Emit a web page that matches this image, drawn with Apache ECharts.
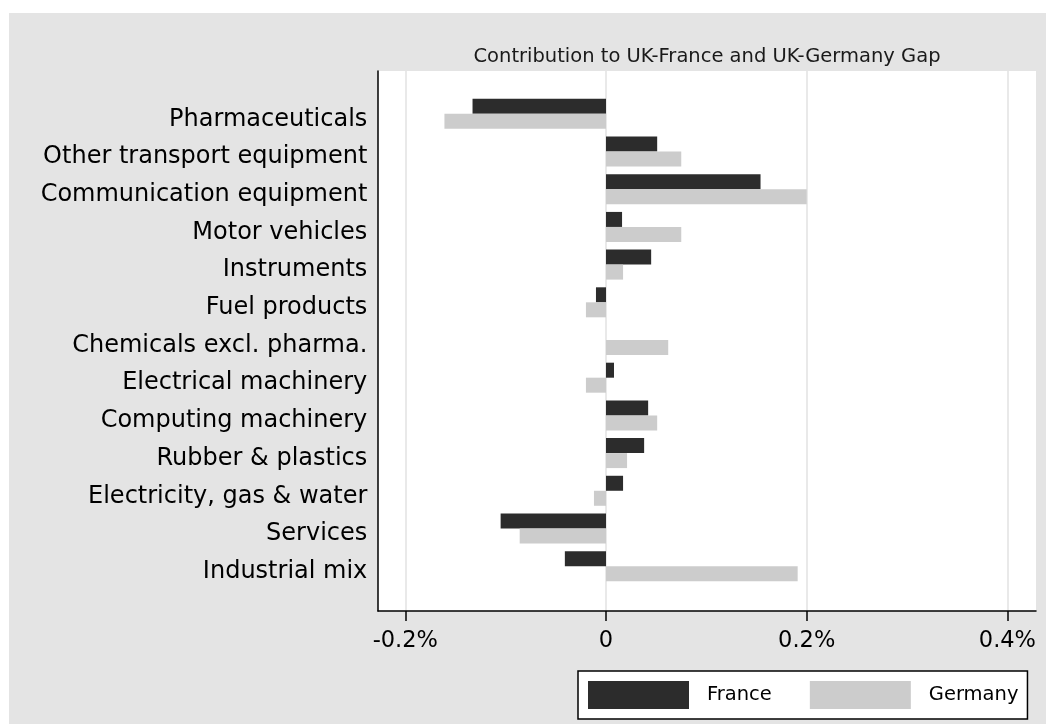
<!DOCTYPE html>
<html>
<head>
<meta charset="utf-8">
<script src="https://cdn.jsdelivr.net/npm/echarts@6/dist/echarts.min.js"></script>
<style>
  html, body { margin: 0; padding: 0; background: #fff; }
  #wrap { position: relative; width: 1046px; height: 724px; background: #fff; }
  #main { position: absolute; left: 9px; top: 13px; width: 1037px; height: 711px; }
</style>
</head>
<body>
<div id="wrap"><div id="main"></div></div>
<script>
// industries, top to bottom
const categories = [
  "Pharmaceuticals",
  "Other transport equipment",
  "Communication equipment",
  "Motor vehicles",
  "Instruments",
  "Fuel products",
  "Chemicals excl. pharma.",
  "Electrical machinery",
  "Computing machinery",
  "Rubber & plastics",
  "Electricity, gas & water",
  "Services",
  "Industrial mix"
];
// contribution to gap, percentage points
const france = [-0.133, 0.051, 0.154, 0.016, 0.045, -0.010, 0, 0.008, 0.042, 0.038, 0.017, -0.105, -0.041];
const germany = [-0.161, 0.075, 0.200, 0.075, 0.017, -0.020, 0.062, -0.020, 0.051, 0.021, -0.012, -0.086, 0.191];
const xTicks = [-0.2, 0, 0.2, 0.4];

const FONT = "DejaVu Sans";

const chart = echarts.init(document.getElementById("main"));
const option = {
  backgroundColor: "#e4e4e4",
  animation: false,
  textStyle: { fontFamily: FONT },
  title: {
    text: "Contribution to UK-France and UK-Germany Gap",
    left: 698,
    top: 34,
    padding: 0,
    textAlign: "center",
    textStyle: { fontFamily: FONT, fontSize: 19.5, fontWeight: "normal", color: "#1a1a1a" }
  },
  legend: {
    left: 569,
    top: 658,
    orient: "horizontal",
    icon: "rect",
    itemWidth: 101,
    itemHeight: 28,
    itemGap: 38,
    padding: [10, 9, 10, 10],
    borderColor: "#000",
    borderWidth: 1.5,
    borderRadius: 0,
    backgroundColor: "#fff",
    textStyle: { fontFamily: FONT, fontSize: 19.5, color: "#000", padding: [0, 0, 0, 13] },
    data: ["France", "Germany"]
  },
  grid: [
    // plot frame (white area, axis lines)
    { left: 369, right: 10, top: 58, bottom: 113, show: true, backgroundColor: "#fff", borderWidth: 0 },
    // tick range -0.2..0.4: gridlines, ticks, labels
    { left: 396.3, right: 38.6, top: 58, bottom: 113 },
    // bars
    { left: 396.3, right: 38.6, top: 82, bottom: 139 }
  ],
  xAxis: [
    {
      gridIndex: 0,
      type: "value",
      min: 0,
      max: 1,
      axisLine: { show: true, onZero: false, lineStyle: { color: "#000", width: 1.5 } },
      axisTick: { show: false },
      axisLabel: { show: false },
      splitLine: { show: false }
    },
    {
      gridIndex: 1,
      type: "value",
      min: xTicks[0],
      max: xTicks[xTicks.length - 1],
      interval: 0.2,
      axisLine: { show: false, onZero: false },
      axisTick: { show: true, length: 10, lineStyle: { color: "#000", width: 1.5 } },
      axisLabel: {
        margin: 19,
        fontSize: 22.5,
        fontFamily: FONT,
        color: "#000",
        formatter: v => (Math.abs(v) < 1e-9 ? "0" : v.toFixed(1) + "%")
      },
      splitLine: { show: true, lineStyle: { color: "#e2e2e2", width: 1.5 } }
    },
    { gridIndex: 2, type: "value", min: xTicks[0], max: xTicks[xTicks.length - 1], show: false }
  ],
  yAxis: [
    {
      gridIndex: 0,
      type: "value",
      min: 0,
      max: 1,
      axisLine: { show: true, onZero: false, lineStyle: { color: "#000", width: 1.5 } },
      axisTick: { show: false },
      axisLabel: { show: false },
      splitLine: { show: false }
    },
    { gridIndex: 1, type: "value", min: 0, max: 1, show: false },
    {
      gridIndex: 2,
      type: "category",
      data: categories,
      inverse: true,
      axisLine: { show: false, onZero: false },
      axisTick: { show: false },
      splitLine: { show: false },
      axisLabel: {
        margin: 38,
        fontSize: 24,
        fontFamily: FONT,
        color: "#000",
        verticalAlign: "top",
        lineHeight: 11
      }
    }
  ],
  series: [
    {
      name: "France",
      type: "bar",
      xAxisIndex: 2,
      yAxisIndex: 2,
      data: france,
      barWidth: 15,
      barGap: "0%",
      itemStyle: { color: "#2c2c2c" }
    },
    {
      name: "Germany",
      type: "bar",
      xAxisIndex: 2,
      yAxisIndex: 2,
      data: germany,
      barWidth: 15,
      barGap: "0%",
      itemStyle: { color: "#cccccc" }
    }
  ]
};
chart.setOption(option);
window.addEventListener("resize", () => {
  chart.resize();
});
</script>
</body>
</html>
